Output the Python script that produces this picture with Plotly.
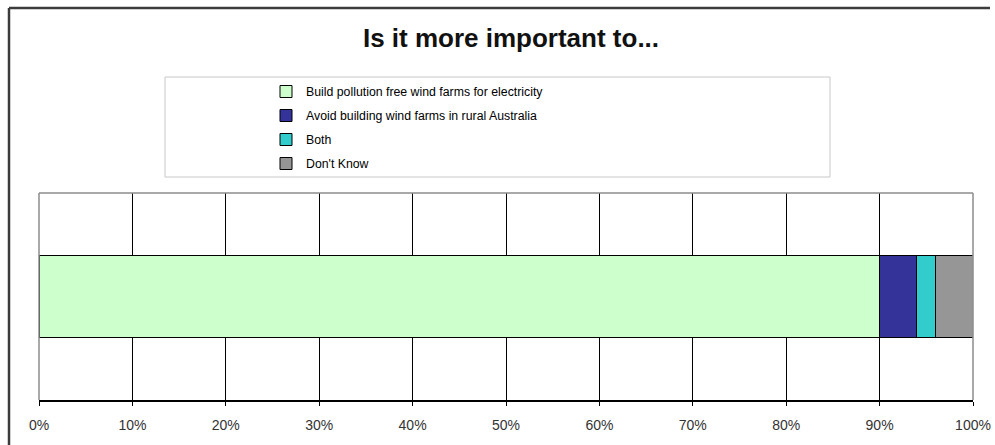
import plotly.graph_objects as go

# Survey answers (percent of respondents)
categories = ["Build pollution free wind farms for electricity",
              "Avoid building wind farms in rural Australia",
              "Both",
              "Don't Know"]
values = [90, 4, 2, 4]
colors = ["#CCFFCC", "#333399", "#33CCCC", "#969696"]
tick_values = [0, 10, 20, 30, 40, 50, 60, 70, 80, 90, 100]
tick_labels = [f"{v}%" for v in tick_values]

W, H = 995, 445
L, R, T, B = 39, 973, 193, 400   # plot area in pixels


def px_x(x):
    return (x - L) / (R - L)


def px_y(y):
    return (B - y) / (B - T)


fig = go.Figure()
for i, (name, val, col) in enumerate(zip(categories, values, colors)):
    fig.add_trace(go.Bar(
        y=[""], x=[val], name=name, orientation="h",
        width=0.4,
        marker=dict(color=col, line=dict(color="#000000", width=1)),
        legendgroup=f"g{i}",
    ))

frame = dict(color="#3c3c3c", width=2.5)
shapes = [
    # outer chart frame: left and top edges
    dict(type="line", xref="paper", yref="paper",
         x0=px_x(9), x1=px_x(9), y0=px_y(445), y1=px_y(8), line=frame),
    dict(type="line", xref="paper", yref="paper",
         x0=px_x(9), x1=px_x(990), y0=px_y(8), y1=px_y(8), line=frame),
    # legend box
    dict(type="rect", xref="paper", yref="paper",
         x0=px_x(165), x1=px_x(830), y0=px_y(177), y1=px_y(77),
         line=dict(color="#c8c8c8", width=1), fillcolor="white", layer="below"),
    # plot area edges in grey
    dict(type="line", xref="paper", yref="paper", x0=0, x1=1, y0=1, y1=1,
         line=dict(color="#8c8c8c", width=1.5)),
    dict(type="line", xref="paper", yref="paper", x0=0, x1=0, y0=0, y1=1,
         line=dict(color="#8c8c8c", width=1.5)),
    dict(type="line", xref="paper", yref="paper", x0=1, x1=1, y0=0, y1=1,
         line=dict(color="#8c8c8c", width=1.5)),
]

fig.update_layout(
    width=W, height=H, autosize=False,
    margin=dict(l=L, r=W - R, t=T, b=H - B, pad=0, autoexpand=False),
    paper_bgcolor="white", plot_bgcolor="white",
    barmode="stack",
    font=dict(family="Liberation Sans, Arial, sans-serif", color="#000000"),
    title=dict(text="<b>Is it more important to...</b>",
               font=dict(size=26, color="#111111"),
               x=px_x(511), xref="paper", xanchor="center",
               y=1 - 38 / H, yref="container", yanchor="middle"),
    xaxis=dict(range=[0, 100], tickvals=tick_values, ticktext=tick_labels,
               showgrid=True, gridcolor="#000000", gridwidth=1.3,
               zeroline=False, showline=True, linecolor="#000000", linewidth=1.5,
               ticks="outside", ticklen=4, tickcolor="#000000",
               tickfont=dict(size=14, color="#333333"), ticklabelstandoff=7,
               automargin=False),
    yaxis=dict(range=[-0.5, 0.5], showticklabels=False, showgrid=False,
               zeroline=False, showline=False, automargin=False),
    showlegend=True,
    legend=dict(x=px_x(266), xanchor="left", y=px_y(77), yanchor="top",
                bgcolor="rgba(0,0,0,0)", borderwidth=0,
                font=dict(size=12.3), traceorder="grouped",
                tracegroupgap=5, itemwidth=30),
    shapes=shapes,
)

fig.write_html("out.html")
